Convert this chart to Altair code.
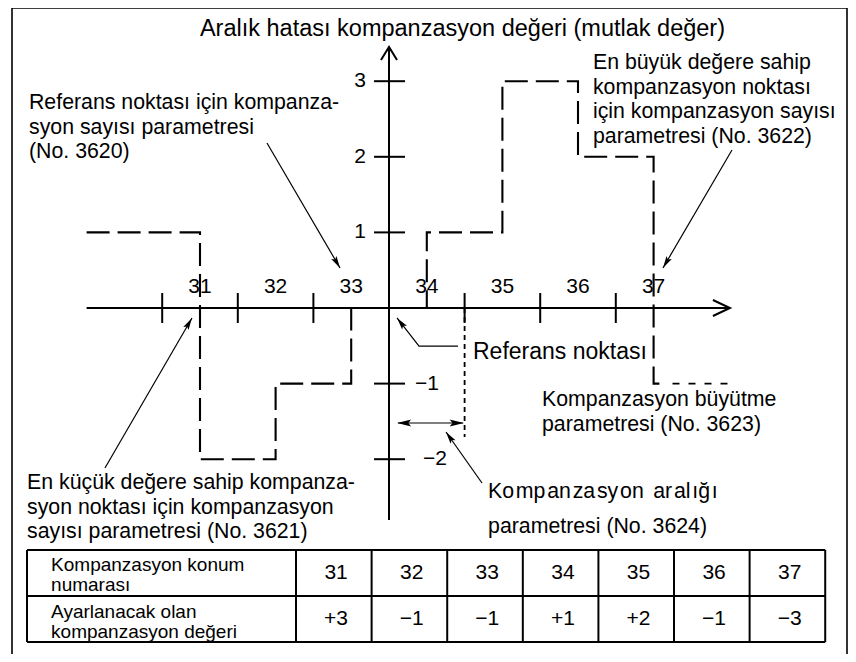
import math
import altair as alt
import pandas as pd

# ---------------- values ----------------
points = [31, 32, 33, 34, 35, 36, 37]                 # compensation position numbers
comp_values = [3, -1, -1, 1, 2, -1, -3]               # compensation value to be set
step_levels = [1, -2, -1, 0, 1, 3, 2, -1]             # pitch error level: left of 31, then after each point
y_tick_values = [3, 2, 1, -1, -2]
x_tick_values = [30.5, 31.5, 32.5, 34.5, 35.5, 36.5]  # interval boundaries
reference_x = 33.5                                    # reference point (vertical axis)

title_text = "Aralık hatası kompanzasyon değeri (mutlak değer)"
note_3620 = ["Referans noktası için kompanza-", "syon sayısı parametresi", "(No. 3620)"]
note_3622 = ["En büyük değere sahip", "kompanzasyon noktası", "için kompanzasyon sayısı", "parametresi (No. 3622)"]
note_3621 = ["En küçük değere sahip kompanza-", "syon noktası için kompanzasyon", "sayısı parametresi (No. 3621)"]
note_3623 = ["Kompanzasyon büyütme", "parametresi (No. 3623)"]
note_3624 = ["Kompanzasyon  aralığı", "parametresi (No. 3624)"]
note_ref = "Referans noktası"
row_labels = [["Kompanzasyon konum", "numarası"], ["Ayarlanacak olan", "kompanzasyon değeri"]]

# ---------------- layout (diagram units) ----------------
U = 75.6                 # pixels per unit, both directions
W, H = 840, 646
X0 = 31 - 192 / U
Y1 = 300 / U
xscale = alt.Scale(domain=[X0, X0 + W / U], nice=False, zero=False)
yscale = alt.Scale(domain=[Y1 - H / U, Y1], nice=False, zero=False)
FONT = "Liberation Sans"
HAIR = "\u200a"


def fmt(v):
    return ("+" if v > 0 else "\u2212") + str(abs(v))


def spaced(s):
    out = ""
    for i, ch in enumerate(s):
        out += ch
        if i % 2 == 1 and i < len(s) - 1:
            out += HAIR
    return out


def seg_df(segs):
    rows = []
    for sid, pts in enumerate(segs):
        for k, (x, y) in enumerate(pts):
            rows.append({"seg": sid, "k": k, "x": x, "y": y})
    return pd.DataFrame(rows)


def enc_xy():
    return dict(x=alt.X("x:Q", scale=xscale, axis=None),
                y=alt.Y("y:Q", scale=yscale, axis=None))


def lines(df, width, dash=None):
    kw = dict(color="black", strokeWidth=width, strokeCap="butt", strokeJoin="miter", clip=False)
    if dash is not None:
        kw["strokeDash"] = dash
    return alt.Chart(df).mark_line(**kw).encode(
        detail="seg:N", order="k:Q", **enc_xy())


def texts(rows, align):
    df = pd.DataFrame(rows, columns=["x", "y", "t", "fs"])
    return alt.Chart(df).mark_text(align=align, baseline="middle", font=FONT, color="black").encode(
        text="t:N", size=alt.Size("fs:Q", scale=None, legend=None), **enc_xy())


# step line (dashed)
sx, sy = [29.5], [step_levels[0]]
for i, p in enumerate(points):
    sx += [p, p]
    sy += [step_levels[i], step_levels[i + 1]]
sx.append(points[-1] + 0.1)
sy.append(step_levels[-1])
step_df = seg_df([list(zip(sx, sy))])
tail_df = seg_df([[(points[-1] + 0.25, step_levels[-1]), (38.0, step_levels[-1])]])

# axes, ticks, table (thick solid)
axis_end = 38.01
y_top, y_bot = 3.452, -2.804
thick = [
    [(29.5, 0), (axis_end, 0)],
    [(axis_end - 0.225, 0.106), (axis_end, 0), (axis_end - 0.225, -0.106)],
    [(reference_x, y_bot), (reference_x, y_top)],
    [(reference_x - 0.106, y_top - 0.172), (reference_x, y_top), (reference_x + 0.106, y_top - 0.172)],
]
for t in x_tick_values:
    thick.append([(t, 0.198), (t, -0.198)])
for t in y_tick_values:
    thick.append([(33.302, t), (33.712, t)])

tab_left, tab_col0, tab_right = 28.712, 32.270, 32.270 + len(points)
row_lines = [-3.201, -3.810, -4.418]
for r in row_lines:
    thick.append([(tab_left, r), (tab_right, r)])
for cx in [tab_left] + [tab_col0 + k for k in range(len(points) + 1)]:
    thick.append([(cx, row_lines[0]), (cx, row_lines[-1])])
thick_df = seg_df(thick)

# leader lines (thin)
arrows = [
    [(31.886, 2.183), (32.852, 0.529)],
    [(38.037, 2.090), (37.124, 0.529)],
    [(29.743, -2.116), (30.894, -0.132)],
    [(34.413, -0.503), (33.897, -0.503), (33.606, -0.132)],
    [(34.730, -2.315), (34.254, -1.640)],
]
thin_df = seg_df(arrows + [[(33.62, -1.521), (34.48, -1.521)]])

heads = []
for pts in arrows:
    (xa, ya), (xb, yb) = pts[-2], pts[-1]
    ang = math.degrees(math.atan2(xb - xa, yb - ya)) % 360
    heads.append({"x": xb, "y": yb, "ang": ang, "sz": 150})
heads.append({"x": 33.606, "y": -1.521, "ang": 270.0, "sz": 200})
heads.append({"x": 34.49, "y": -1.521, "ang": 90.0, "sz": 200})
heads_df = pd.DataFrame(heads)
ARROW = "M0,0 L0.5,2 L0,1.6 L-0.5,2 Z"

# dotted interval marker
dot_df = seg_df([[(34.5, 0), (34.5, -1.706)]])

# texts
NS = 21.3
left_rows = []
for i, s in enumerate(note_3620):
    left_rows.append((28.738, 2.712 - 0.325 * i, s, NS))
for i, s in enumerate(note_3622):
    left_rows.append((36.198, 3.241 - 0.326 * i, s, NS))
for i, s in enumerate(note_3621):
    left_rows.append((28.712, -2.315 - 0.324 * i, s, NS))
for i, s in enumerate(note_3623):
    left_rows.append((35.524, -1.217 - 0.331 * i, s, NS))
left_rows.append((34.810, -2.434, spaced(note_3624[0]), NS))
left_rows.append((34.810, -2.897, note_3624[1], NS))
left_rows.append((34.611, -0.582, note_ref, 23))
neg_label_x = {-1: 33.844, -2: 33.950}
for v in y_tick_values:
    if v < 0:
        left_rows.append((neg_label_x[v], v, "\u2212" + str(abs(v)), 21))
row_y = [[-3.399, -3.664], [-4.021, -4.286]]
for r, lab in enumerate(row_labels):
    for j, s in enumerate(lab):
        left_rows.append((29.03, row_y[r][j], s, 19))

center_rows = [(34.472, 3.69, title_text, 23.5)]
for p in points:
    center_rows.append((p, 0.278, str(p), 21))
for k, (p, c) in enumerate(zip(points, comp_values)):
    center_rows.append((tab_col0 + 0.5 + k + 0.03, -3.505, str(p), 21))
    center_rows.append((tab_col0 + 0.5 + k + 0.03, -4.114, fmt(c), 21))

right_rows = [(33.196, v, str(v), 21) for v in y_tick_values if v > 0]

frame = alt.Chart(pd.DataFrame({"a": [0]})).mark_rect(
    fill=None, stroke="black", strokeWidth=1.6, clip=False
).encode(x=alt.value(4), x2=alt.value(839), y=alt.value(0), y2=alt.value(720))

chart = alt.layer(
    frame,
    lines(step_df, 2.1, [23, 8]),
    lines(tail_df, 1.6, [7, 9]),
    lines(dot_df, 1.8, [5, 4]),
    lines(thick_df, 2),
    lines(thin_df, 1.2),
    alt.Chart(heads_df).mark_point(shape=ARROW, filled=True, color="black", opacity=1).encode(
        angle=alt.Angle("ang:Q", scale=None), size=alt.Size("sz:Q", scale=None, legend=None), **enc_xy()),
    texts(left_rows, "left"),
    texts(center_rows, "center"),
    texts(right_rows, "right"),
).properties(
    width=W, height=H, padding=0, background="white",
    autosize=alt.AutoSizeParams(type="none"),
).configure_view(stroke=None)

chart.save("out.html", embed_options={"renderer": "svg", "actions": False})
